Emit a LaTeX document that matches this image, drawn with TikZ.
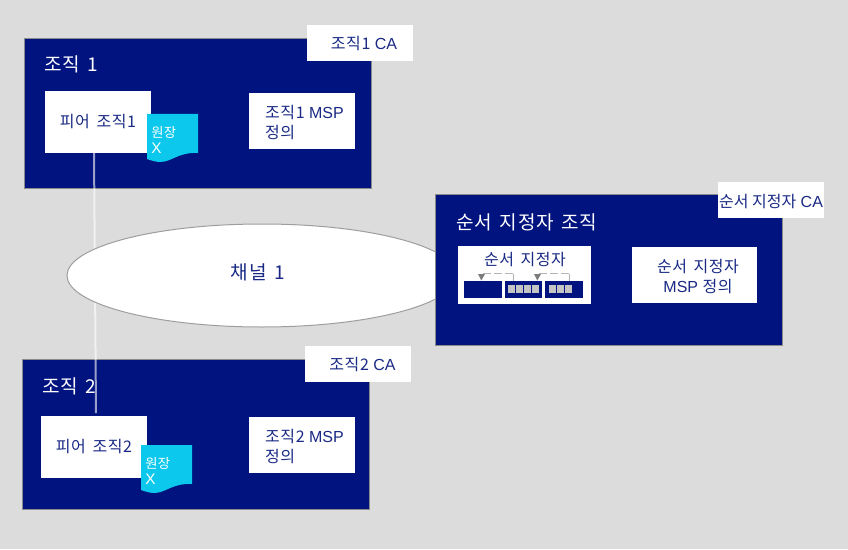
\documentclass[tikz,border=0pt]{standalone}
\usepackage{fontspec}
\setmainfont{Liberation Sans}
\newfontfamily\kr[LetterSpace=3.5,WordSpace=1.6]{Noto Sans CJK KR}
\newfontfamily\krplain{Noto Sans CJK KR}
\usetikzlibrary{shapes.geometric}
\definecolor{navy}{HTML}{00137F}
\definecolor{bggrey}{HTML}{DCDCDC}
\definecolor{edgegrey}{HTML}{8A8A8A}
\definecolor{ledger}{HTML}{0BC8EC}
\definecolor{blockgrey}{HTML}{C4C4C4}
\definecolor{dashgrey}{HTML}{B4B4B4}
\definecolor{tipgrey}{HTML}{7C7C7C}
\definecolor{softnavy}{HTML}{1A2A85}
\newcommand{\K}[1]{{\kr #1}}
\tikzset{
  x=0.75pt,y=-0.75pt,
  org/.style={draw=edgegrey,line width=0.75pt,fill=navy},
  whitebox/.style={fill=white,draw=none,inner sep=0pt,text=softnavy,font=\fontsize{12}{15}\selectfont,align=center},
  boxtext/.style={inner sep=0pt,text=softnavy,font=\fontsize{12}{15}\selectfont,align=center},
  msptext/.style={inner sep=0pt,text=softnavy,font=\fontsize{12}{15}\selectfont,align=left},
  orgtitle/.style={text=white,font=\fontsize{14.3}{16}\selectfont,anchor=west,inner sep=0pt},
  blockbox/.style={fill=navy,draw=none,inner sep=0pt},
  cell/.style={fill=blockgrey,draw=none,inner sep=0pt,minimum width=5.25pt,minimum height=6pt},
  ledgertxt/.style={text=white,font=\fontsize{10}{12}\selectfont,anchor=west,inner sep=0pt},
  feed/.style={draw=dashgrey,line width=0.75pt},
  feedtip/.style={fill=tipgrey,draw=none},
}
\begin{document}
\begin{tikzpicture}
\useasboundingbox (0,0) rectangle (848,549);
\fill[bggrey] (0,0) rectangle (848,549);

% organisations
\draw[org] (24.5,38.5) rectangle (371.5,188.5);
\draw[org] (22.5,359.5) rectangle (369.5,509.5);

% channel ellipse and peers' links
\coordinate (link2end) at (96,413);
\node[whitebox,minimum width=106*0.75pt,minimum height=62*0.75pt] (peer1) at (98,122) {\K{피어 조직1}};
\draw[white,opacity=.6,line width=1.5pt] (94,153) -- (link2end);
\node[ellipse,draw=black!38,line width=0.75pt,fill=white,inner sep=0pt,minimum width=390*0.75pt,minimum height=103*0.75pt] (channel) at (262,275.5) {};
\node[text=softnavy,font=\fontsize{14.3}{16}\selectfont,inner sep=0pt] (channellabel) at (258,272.5) {\K{채널 1}};

% orderer organisation
\draw[org] (435.5,194.5) rectangle (782.5,345.5);

% org 1
\node[orgtitle] (org1title) at (44,64.5) {\K{조직 1}};
\node[whitebox,minimum width=106*0.75pt,minimum height=36*0.75pt] (ca1) at (360,43) {};
\node[boxtext] (ca1text) at (364,44) {\K{조직1} CA};
\node[whitebox,minimum width=106*0.75pt,minimum height=56*0.75pt] (msp1) at (302,121) {};
\node[msptext] (msp1text) at (304.5,122.5) {\K{조직1} MSP\\[0.6pt]\K{정의}};
\path[fill=ledger] (147,114) -- (198,114) -- (198,153) .. controls (178,152) and (172,162) .. (160,162) .. controls (155,162) and (150,160) .. (147,159) -- cycle;
\node[ledgertxt] (ledger1a) at (151,132.5) {\K{원장}};
\node[ledgertxt,font=\fontsize{11.5}{13}\selectfont] (ledger1b) at (151,148.5) {X};

% org 2
\node[orgtitle] (org2title) at (42,386) {\K{조직 2}};
\node[whitebox,minimum width=106*0.75pt,minimum height=36*0.75pt] (ca2) at (358,364) {};
\node[boxtext] (ca2text) at (362.5,365) {\K{조직2} CA};
\node[whitebox,minimum width=106*0.75pt,minimum height=62*0.75pt] (peer2) at (94,447) {\K{피어 조직2}};
\node[whitebox,minimum width=106*0.75pt,minimum height=56*0.75pt] (msp2) at (302,445) {};
\node[msptext] (msp2text) at (304.5,446.5) {\K{조직2} MSP\\[0.6pt]\K{정의}};
\path[fill=ledger] (141,445) -- (192,445) -- (192,484) .. controls (172,483) and (166,493) .. (154,493) .. controls (149,493) and (144,491) .. (141,490) -- cycle;
\node[ledgertxt] (ledger2a) at (145,463.5) {\K{원장}};
\node[ledgertxt,font=\fontsize{11.5}{13}\selectfont] (ledger2b) at (145,479.5) {X};

% orderer
\node[orgtitle] (ordtitle) at (456,222) {\K{순서 지정자 조직}};
\node[whitebox,minimum width=106*0.75pt,minimum height=36*0.75pt] (caord) at (771,200) {};
\node[boxtext] (caordtext) at (771,201.5) {{\krplain 순서 지정자} CA};
\node[whitebox,minimum width=125*0.75pt,minimum height=56*0.75pt] (mspord) at (694.5,275) {};
\node[boxtext] (mspordtext) at (698,276.5) {\K{순서 지정자}\\MSP \K{정의}};
\fill[white] (458,246) rectangle (591,304);
\node[text=softnavy,inner sep=0pt,font=\fontsize{12}{14}\selectfont] (ordlabel) at (525,260) {\K{순서 지정자}};
\node[blockbox,minimum width=38*0.75pt,minimum height=17*0.75pt] (b1) at (483,289.5) {};
\node[blockbox,minimum width=37*0.75pt,minimum height=17*0.75pt] (b2) at (523.5,289.5) {};
\node[blockbox,minimum width=38*0.75pt,minimum height=17*0.75pt] (b3) at (564,289.5) {};
\foreach \i/\cx in {1/511.5,2/519.5,3/527.5,4/535.5} \node[cell] (c2\i) at (\cx,289) {};
\foreach \i/\cx in {1/552.5,2/560.5,3/568.5} \node[cell] (c3\i) at (\cx,289) {};
\coordinate (f1a) at (513,281); \coordinate (f1b) at (513,273.5); \coordinate (f1c) at (483,273.5);
\coordinate (f2a) at (569,281); \coordinate (f2b) at (569,273.5); \coordinate (f2c) at (539,273.5);
\draw[feed] (f1a) -- (f1b);
\draw[feed,dash pattern=on 6pt off 2.25pt] (f1b) -- (f1c);
\draw[feed] (f2a) -- (f2b);
\draw[feed,dash pattern=on 6pt off 2.25pt] (f2b) -- (f2c);
\fill[feedtip] (478,274) -- (485,274) -- (481.3,280.5) -- cycle;
\fill[feedtip] (534,274) -- (541,274) -- (537.3,280.5) -- cycle;
\end{tikzpicture}
\end{document}
